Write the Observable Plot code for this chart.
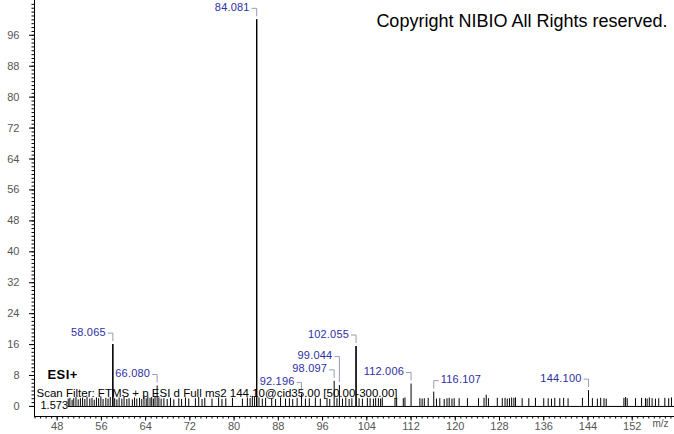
<!DOCTYPE html>
<html><head><meta charset="utf-8">
<script src="https://cdn.jsdelivr.net/npm/d3@7"></script>
<script src="https://cdn.jsdelivr.net/npm/@observablehq/plot@0.6"></script>
<style>
body{margin:0;background:#fff}
#chart{width:674px;height:434px}
</style>
</head><body><div id="chart"></div>
<script>
// ---- data ----
const mz = [50.0,50.3,50.7,51.0,51.4,51.8,52.2,52.6,53.0,53.4,53.9,54.3,54.7,55.1,55.5,55.9,56.3,56.8,57.2,57.6,58.065,58.4,58.8,59.2,59.7,60.1,60.6,61.0,61.6,62.0,62.4,62.9,63.3,63.7,64.1,64.4,64.8,65.1,65.4,65.7,66.080,66.4,66.8,67.3,67.9,
68.5,69.1,70.0,70.5,71.2,71.8,73.0,73.6,74.2,74.7,76.0,77.2,77.8,78.5,79.7,81.5,82.4,82.9,83.3,83.7,84.081,84.5,85.1,85.7,86.8,87.5,88.4,89.3,90.0,90.6,91.4,92.196,92.9,93.6,94.7,95.6,96.8,97.3,98.097,98.6,99.044,99.6,100.2,100.8,101.3,102.055,102.6,103.2,104.1,104.6,105.2,105.6,106.1,106.5,106.8,109.1,109.4,110.6,110.9,112.006,113.6,114.0,114.4,115.1,116.107,116.6,117.2,118.0,118.5,118.9,119.4,119.8,120.7,122.2,124.2,125.2,125.6,126.0,127.6,128.5,129.0,129.4,129.8,130.2,130.6,130.9,132.1,133.3,134.5,136.0,136.8,137.4,138.0,138.9,139.6,140.4,143.0,144.100,144.8,145.7,146.3,146.9,147.3,150.5,150.8,151.1,152.6,153.7,154.4,154.7,155.1,155.6,156.2,156.8,157.9,158.6,159.1];
const intensity = [1.9,2.1,1.6,2.0,2.3,1.7,2.0,2.2,1.8,2.4,1.9,2.1,1.6,2.2,2.0,2.5,1.8,2.1,1.9,2.3,16.0,2.0,1.7,2.2,1.9,2.4,1.8,2.0,1.7,2.2,1.9,2.1,1.8,2.3,2.0,2.5,2.1,2.3,1.9,2.4,5.3,2.2,1.9,2.0,1.8,
2.1,1.7,2.0,1.8,2.2,1.9,2.0,2.3,1.8,2.1,1.9,2.2,1.8,2.0,2.1,1.9,2.2,2.0,2.6,2.3,100,2.2,1.9,2.1,2.0,1.8,2.2,1.9,2.0,1.8,2.1,3.2,1.9,2.0,2.2,1.9,2.1,1.8,6.5,2.0,5.4,1.9,2.2,1.8,2.0,15.5,2.0,1.9,2.1,2.0,1.9,2.1,2.0,1.9,2.2,2.0,2.1,2.0,2.2,5.8,2.0,1.9,2.0,2.1,3.7,1.9,2.0,1.8,2.0,2.1,1.9,2.0,2.0,2.0,2.0,2.1,2.9,2.0,2.1,2.0,2.1,1.9,2.0,2.2,2.1,2.2,2.0,2.0,2.1,2.0,2.0,1.9,2.1,2.0,2.1,2.0,2.1,4.1,2.0,1.9,2.1,2.0,1.9,2.1,2.3,2.0,2.0,2.1,2.0,1.9,2.2,2.0,1.9,2.0,2.1,2.0,2.2];
const labelMz = [58.065,66.080,84.081,92.196,98.097,99.044,102.055,112.006,116.107,144.100];
const labelIntensity = [16.0,5.3,100,3.2,6.5,5.4,15.5,5.8,3.7,4.1];
const yTicks = [0,8,16,24,32,40,48,56,64,72,80,88,96];
const xTicks = [48,56,64,72,80,88,96,104,112,120,128,136,144,152];
const copyright = "Copyright NIBIO All Rights reserved.";
const ionMode = "ESI+";
const scanFilter = "Scan Filter: FTMS + p ESI d Full ms2 144.10@cid35.00 [50.00-300.00]";
const retention = "1.573";
const xUnit = "m/z";
const scanStart = 50;

// ---- layout ----
const W = 674, H = 434, ML = 34, MR = 0, MT = 0, MB = 18;
const xDom = [43.9, 159.65], yDom = [-2.6, 105];
const kx = (xDom[1] - xDom[0]) / (W - ML - MR);
const ky = (yDom[1] - yDom[0]) / (H - MT - MB);
const rightSide = new Set(["116.107"]);
const lifted = new Set(["99.044"]);

const peaks = mz.map((m, i) => ({m, v: intensity[i]}));
const labels = labelMz.map((m, i) => {
  const t = m.toFixed(3);
  const side = rightSide.has(t) ? 1 : -1;
  const lift = lifted.has(t) ? 30 : 12.5;
  const v = labelIntensity[i];
  const ly = v + lift * ky;
  return {m, v, t, side, ly, hy: ly - 1 * ky, hx: m + side * 5 * kx, vy: v + 3.5 * ky};
});

const font = "'Liberation Sans', Arial, sans-serif";
const lblColor = "#2e2ea3", brColor = "#9a9abb";

const plot = Plot.plot({
  width: W, height: H,
  marginLeft: ML, marginRight: MR, marginTop: MT, marginBottom: MB,
  style: {fontFamily: font, background: "#fff", overflow: "visible"},
  x: {domain: xDom},
  y: {domain: yDom},
  marks: [
    Plot.ruleY([{y: 0, a: scanStart, b: xDom[1]}], {y: "y", x1: "a", x2: "b", stroke: "#000", strokeWidth: 1}),
    Plot.ruleX(peaks, {x: "m", y1: 0, y2: "v", stroke: "#000", strokeWidth: 1}),
    Plot.ruleX(labels.filter(d => d.v > 10), {x: "m", y1: 0, y2: "v", stroke: "#000", strokeWidth: 1.3}),
    // axes lines
    Plot.ruleX([xDom[0]], {stroke: "#000"}),
    Plot.ruleY([yDom[0]], {stroke: "#000"}),
    // y ticks
    Plot.axisY(d3.range(0, 105, 1), {tickSize: 2.5, text: null, label: null, color: "#000"}),
    Plot.axisY(yTicks, {tickSize: 5, text: null, label: null, color: "#000"}),
    Plot.axisY(yTicks, {tickSize: 0, tickPadding: 15, label: null, fontSize: 11, color: "#555"}),
    // x ticks
    Plot.axisX(d3.range(44, 160, 1), {tickSize: 2.5, text: null, label: null, color: "#000"}),
    Plot.axisX(xTicks, {tickSize: 4.5, text: null, label: null, color: "#000"}),
    Plot.axisX(xTicks, {tickSize: 0, tickPadding: 6, label: null, fontSize: 11, color: "#555"}),
    // peak label brackets
    Plot.link(labels, {x1: "hx", x2: "m", y1: "hy", y2: "hy", stroke: brColor, strokeWidth: 1}),
    Plot.link(labels, {x1: "m", x2: "m", y1: "hy", y2: "vy", stroke: brColor, strokeWidth: 1}),
    Plot.text(labels.filter(d => d.side < 0), {x: "m", y: "ly", text: "t", dx: -7, textAnchor: "end", fill: lblColor, fontSize: 11}),
    Plot.text(labels.filter(d => d.side > 0), {x: "m", y: "ly", text: "t", dx: 7, textAnchor: "start", fill: lblColor, fontSize: 11}),
    // annotation texts
    Plot.text([copyright], {frameAnchor: "top-right", dx: -7, dy: 14, textAnchor: "end", fontSize: 18, fill: "#000"}),
    Plot.text([ionMode], {frameAnchor: "bottom-left", dx: 13, dy: -38, textAnchor: "start", fontSize: 13, fontWeight: "bold", fill: "#000"}),
    Plot.text([scanFilter], {frameAnchor: "bottom-left", dx: 2, dy: -20, textAnchor: "start", fontSize: 11.5, fill: "#000"}),
    Plot.text([retention], {frameAnchor: "bottom-left", dx: 6, dy: -8, textAnchor: "start", fontSize: 11, fill: "#000"}),
    Plot.text([xUnit], {frameAnchor: "bottom-right", dx: -6, dy: 10, textAnchor: "end", fontSize: 10, fill: "#555"})
  ]
});
plot.querySelectorAll(`g[fill="${lblColor}"] text`).forEach(t => t.style.letterSpacing = "0.2px");
plot.querySelectorAll(`g[font-weight="bold"] text`).forEach(t => t.style.letterSpacing = "0.4px");
document.getElementById("chart").appendChild(plot);
</script>
</body></html>
